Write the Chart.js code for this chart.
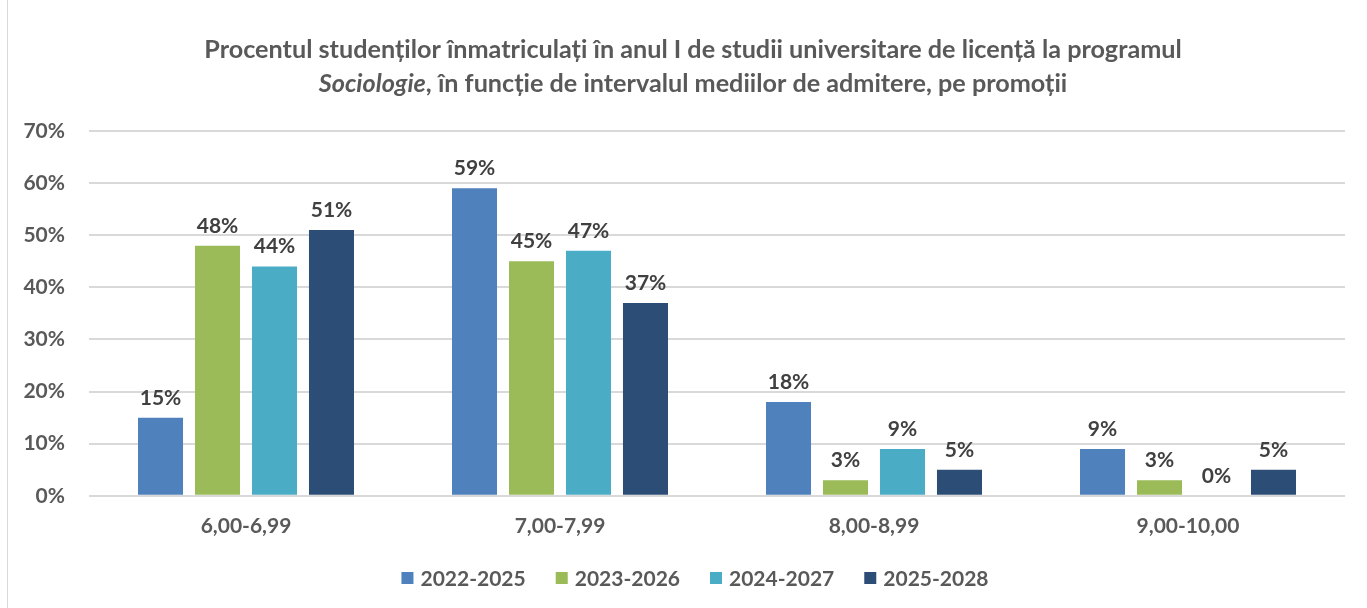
<!DOCTYPE html>
<html>
<head>
<meta charset="utf-8">
<script src="https://cdn.jsdelivr.net/npm/chart.js@4/dist/chart.umd.min.js"></script>
<style>
html,body{margin:0;padding:0;background:#fff;}
#wrap{position:absolute;left:0;top:0;width:1367px;height:608px;overflow:hidden;}
#frame{position:absolute;left:7px;top:-2px;width:1400px;height:620px;border:1px solid #d9d9d9;box-sizing:border-box;}
canvas{position:absolute;left:0;top:0;}
</style>
</head>
<body>
<div id="wrap">
<div id="frame"></div>
<canvas id="c" width="1367" height="608"></canvas>
</div>
<script>
const categories = ["6,00-6,99", "7,00-7,99", "8,00-8,99", "9,00-10,00"];
const seriesNames = ["2022-2025", "2023-2026", "2024-2027", "2025-2028"];
const s2022 = [15, 59, 18, 9];
const s2023 = [48, 45, 3, 3];
const s2024 = [44, 47, 9, 0];
const s2025 = [51, 37, 5, 5];
const colors = ["#4F81BD", "#9BBB59", "#4BACC6", "#2C4D75"];
const yTicks = [0, 10, 20, 30, 40, 50, 60, 70];
const titleLine1 = "Procentul studenților înmatriculați în anul I de studii universitare de licență la programul";
const titleLine2Italic = "Sociologie";
const titleLine2Rest = ", în funcție de intervalul mediilor de admitere, pe promoții";

const FONT = "Lato, 'Open Sans', sans-serif";
const LBL = 21;

const labelPlugin = {
  id: 'barLabels',
  afterDatasetsDraw(chart) {
    const ctx = chart.ctx;
    ctx.save();
    ctx.font = "bold " + LBL + "px " + FONT;
    ctx.fillStyle = "#404040";
    ctx.textAlign = "center";
    ctx.textBaseline = "alphabetic";
    chart.data.datasets.forEach((ds, i) => {
      const meta = chart.getDatasetMeta(i);
      meta.data.forEach((bar, j) => {
        ctx.fillText(ds.data[j] + "%", bar.x, bar.y - 13);
      });
    });
    ctx.restore();
  }
};

const titlePlugin = {
  id: 'mixedTitle',
  afterDraw(chart) {
    const ctx = chart.ctx;
    ctx.save();
    ctx.fillStyle = "#595959";
    ctx.textBaseline = "alphabetic";
    const cx = 693;
    const fB = "bold 25.2px " + FONT;
    const fI = "italic bold 25.2px " + FONT;
    ctx.font = fB;
    ctx.textAlign = "center";
    ctx.fillText(titleLine1, cx, 58);
    ctx.font = fI; const wI = ctx.measureText(titleLine2Italic).width;
    ctx.font = fB; const wR = ctx.measureText(titleLine2Rest).width;
    let x = cx - (wI + wR) / 2;
    ctx.textAlign = "left";
    ctx.font = fI; ctx.fillText(titleLine2Italic, x, 92);
    ctx.font = fB; ctx.fillText(titleLine2Rest, x + wI, 92);
    ctx.restore();
  }
};

const legendPlugin = {
  id: 'customLegend',
  afterDraw(chart) {
    const ctx = chart.ctx;
    ctx.save();
    ctx.font = "bold " + LBL + "px " + FONT;
    ctx.textBaseline = "middle";
    ctx.textAlign = "left";
    const box = 12, gapBT = 7, gapItems = 30, cx = 695, cy = 578;
    const items = chart.data.datasets.map(ds => ({ label: ds.label, color: ds.backgroundColor, w: ctx.measureText(ds.label).width }));
    const total = items.reduce((s, it) => s + box + gapBT + it.w, 0) + gapItems * (items.length - 1);
    let x = cx - total / 2;
    items.forEach(it => {
      ctx.fillStyle = it.color;
      ctx.fillRect(x, cy - box / 2, box, box);
      ctx.fillStyle = "#595959";
      ctx.fillText(it.label, x + box + gapBT, cy + 1);
      x += box + gapBT + it.w + gapItems;
    });
    ctx.restore();
  }
};

new Chart(document.getElementById('c'), {
  type: 'bar',
  data: {
    labels: categories,
    datasets: [s2022, s2023, s2024, s2025].map((d, i) => ({
      label: seriesNames[i],
      data: d,
      backgroundColor: colors[i],
      borderWidth: 0,
      categoryPercentage: 0.726,
      barPercentage: 0.79
    }))
  },
  plugins: [labelPlugin, titlePlugin, legendPlugin],
  options: {
    responsive: false,
    animation: false,
    layout: { padding: { left: 17, right: 22, top: 131, bottom: 59 } },
    plugins: {
      title: { display: false },
      legend: { display: false },
      tooltip: { enabled: false }
    },
    scales: {
      x: {
        grid: { display: false },
        border: { display: false },
        ticks: { color: "#595959", font: { family: FONT, size: LBL, weight: 'bold' }, padding: 10, maxRotation: 0 }
      },
      y: {
        min: 0, max: 70,
        afterBuildTicks(axis) { axis.ticks = yTicks.map(v => ({ value: v })); },
        afterFit(axis) { axis.width = 72; },
        grid: { color: "#d9d9d9", lineWidth: 2, drawTicks: false },
        border: { display: false },
        ticks: {
          color: "#595959",
          font: { family: FONT, size: LBL, weight: 'bold' },
          padding: 24,
          callback: v => v + "%"
        }
      }
    }
  }
});
</script>
</body>
</html>
